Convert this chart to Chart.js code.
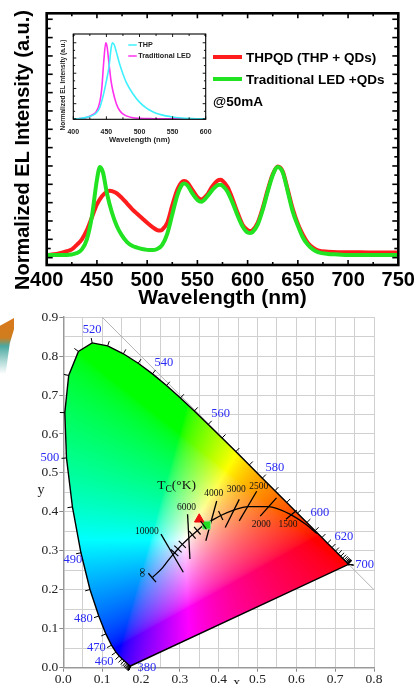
<!DOCTYPE html>
<html>
<head>
<meta charset="utf-8">
<title>EL spectra and CIE 1931 diagram</title>
<script src="https://cdn.jsdelivr.net/npm/chart.js@4.4.1/dist/chart.umd.min.js"></script>
<style>
  html, body { margin: 0; padding: 0; background: #fff; }
  body { position: relative; width: 416px; height: 684px; overflow: hidden; }
  canvas { position: absolute; }
  #elChart { left: 0; top: 0; }
  #insetChart { left: 55px; top: 30px; }
  #cieChart { left: 0; top: 308px; }
  /* scrap of a neighbouring figure poking in from the left edge */
  #edgeScrap {
    position: absolute; left: 0; top: 318px; width: 14px; height: 56px; z-index: 5;
    background: linear-gradient(to bottom, #d9781c 0%, #cf7d1e 35%, #4aa8a0 50%, #a8d6d2 75%, rgba(255,255,255,0) 100%);
    clip-path: polygon(0 14%, 100% 0, 100% 20%, 70% 45%, 40% 100%, 0 100%);
  }
</style>
</head>
<body>
<div id="edgeScrap"></div>
<canvas id="elChart" width="416" height="308"></canvas>
<canvas id="insetChart" width="165" height="115"></canvas>
<canvas id="cieChart" width="416" height="376"></canvas>
<script>
// --- Main panel: normalized EL spectra ---
const thpqdWl  = [400,410,420,425,430,435,440,445,450,455,460,463,465,470,475,480,485,490,495,500,505,510,513,515,520,525,530,535,537,540,545,550,554,560,565,570,573,575,580,585,590,595,600,603,605,610,615,620,625,630,635,640,645,650,655,660,665,670,680,690,700,720,750];
const thpqdVal = [0.03,0.04,0.07,0.09,0.14,0.2,0.3,0.44,0.58,0.67,0.72,0.73,0.725,0.70,0.65,0.59,0.53,0.48,0.43,0.38,0.335,0.30,0.295,0.305,0.38,0.57,0.74,0.83,0.835,0.82,0.74,0.66,0.635,0.69,0.78,0.84,0.85,0.84,0.77,0.64,0.49,0.36,0.30,0.29,0.30,0.38,0.54,0.74,0.91,0.995,0.94,0.74,0.53,0.37,0.25,0.16,0.11,0.08,0.065,0.06,0.06,0.057,0.055];
const tradWl  = [400,410,420,425,430,435,440,445,450,453,456,460,465,470,475,480,485,490,495,500,505,510,515,520,525,530,535,537,540,545,550,554,560,565,570,573,575,580,585,590,595,600,603,605,610,615,620,625,630,635,640,645,650,655,660,665,670,680,690,700,720,750];
const tradVal = [0.03,0.03,0.03,0.035,0.05,0.09,0.2,0.45,0.85,0.99,0.93,0.70,0.49,0.34,0.24,0.17,0.13,0.11,0.095,0.085,0.083,0.095,0.14,0.26,0.47,0.68,0.80,0.81,0.79,0.70,0.63,0.61,0.67,0.74,0.79,0.795,0.785,0.72,0.60,0.46,0.34,0.275,0.27,0.28,0.36,0.52,0.72,0.90,0.99,0.93,0.72,0.50,0.35,0.22,0.14,0.09,0.06,0.04,0.035,0.03,0.03,0.03];
const elTickLabels = [400,450,500,550,600,650,700,750];

// --- Inset: blue chips alone ---
const thpWl  = [400,410,420,430,435,440,445,450,454,457,459,462,465,470,475,480,490,500,510,520,530,540,550,560,580,600];
const thpVal = [0,0.005,0.02,0.05,0.08,0.15,0.3,0.5,0.69,0.92,1.0,0.97,0.88,0.72,0.59,0.48,0.33,0.22,0.145,0.095,0.06,0.04,0.025,0.015,0.005,0];
const ledWl  = [400,410,420,430,435,440,443,446,449,451,454,457,460,465,470,475,480,490,500,520,550,600];
const ledVal = [0,0.005,0.02,0.06,0.1,0.22,0.4,0.75,1.0,0.95,0.72,0.5,0.36,0.2,0.11,0.065,0.04,0.015,0.008,0.003,0,0];
const insetTickLabels = [400,450,500,550,600];

// --- CIE 1931 spectral locus, 380..700 nm every 5 nm ---
const locusX = [0.1741,0.1740,0.1738,0.1736,0.1733,0.1730,0.1726,0.1721,0.1714,0.1703,0.1689,0.1669,0.1644,0.1611,0.1566,0.1510,0.1440,0.1355,0.1241,0.1096,0.0913,0.0687,0.0454,0.0235,0.0082,0.0039,0.0139,0.0389,0.0743,0.1142,0.1547,0.1929,0.2296,0.2658,0.3016,0.3373,0.3731,0.4087,0.4441,0.4788,0.5125,0.5448,0.5752,0.6029,0.6270,0.6482,0.6658,0.6801,0.6915,0.7006,0.7079,0.7140,0.7190,0.7230,0.7260,0.7283,0.7300,0.7311,0.7320,0.7327,0.7334,0.7340,0.7344,0.7346,0.7347];
const locusY = [0.0050,0.0050,0.0049,0.0049,0.0048,0.0048,0.0048,0.0048,0.0051,0.0058,0.0069,0.0086,0.0109,0.0138,0.0177,0.0227,0.0297,0.0399,0.0578,0.0868,0.1327,0.2007,0.2950,0.4127,0.5384,0.6548,0.7502,0.8120,0.8338,0.8262,0.8059,0.7816,0.7543,0.7243,0.6923,0.6589,0.6245,0.5896,0.5547,0.5202,0.4866,0.4544,0.4242,0.3965,0.3725,0.3514,0.3340,0.3197,0.3083,0.2993,0.2920,0.2859,0.2809,0.2770,0.2740,0.2717,0.2700,0.2689,0.2680,0.2673,0.2666,0.2660,0.2656,0.2654,0.2653];
const locusStartNm = 380;
const locusLabelNm = [380,460,470,480,490,500,520,540,560,580,600,620,700];

// Planckian locus from infinity down to 1000 K
const planckX = [0.230,0.2565,0.2637,0.2807,0.2866,0.2952,0.3064,0.3221,0.3324,0.3451,0.3611,0.3805,0.4053,0.4369,0.4770,0.5267,0.5857,0.6251,0.6528];
const planckY = [0.232,0.2577,0.2674,0.2884,0.2950,0.3048,0.3166,0.3318,0.3410,0.3516,0.3658,0.3768,0.3907,0.4041,0.4137,0.4133,0.3931,0.3674,0.3444];

// labelled isotherms, upper end (x1,y1) and lower end (x2,y2)
const isoT  = [10000,6000,4000,3000,2500,2000,1500];
const isoX1 = [0.2515,0.320,0.395,0.453,0.498,0.549,0.601];
const isoY1 = [0.343,0.394,0.428,0.432,0.453,0.436,0.404];
const isoX2 = [0.309,0.326,0.367,0.417,0.453,0.507,0.5734];
const isoY2 = [0.245,0.279,0.326,0.360,0.377,0.389,0.381];

// short unlabelled isotherm marks
const minorIsoX = [0.2866,0.2952,0.3064,0.3324,0.3451,0.3611,0.4053];
const minorIsoY = [0.2950,0.3048,0.3166,0.3410,0.3516,0.3658,0.3907];

const infBarX = [0.219,0.2387];
const infBarY = [0.2425,0.2195];
const whiteEdgeX = [0.1,0.8];
const whiteEdgeY = [0.9,0.2];

const thpqdPoint = [0.350,0.381];
const tradPoint  = [0.369,0.366];

const SANS = '"Liberation Sans", Arial, sans-serif';
const SERIF = '"Liberation Serif", "Times New Roman", serif';

const pts = (xs, ys) => xs.map((v, i) => ({ x: v, y: ys[i] }));

function seg(ctx, x1, y1, x2, y2) {
    ctx.beginPath();
    ctx.moveTo(x1, y1);
    ctx.lineTo(x2, y2);
    ctx.stroke();
}

// ---------------- main EL panel ----------------
const elDecor = {
    id: 'elDecor',
    afterDraw(chart) {
        const { ctx, chartArea: a, scales: { x, y } } = chart;
        ctx.save();
        ctx.strokeStyle = '#000';
        ctx.lineWidth = 1.6;
        // inward ticks on all four sides
        for (let v = 400; v <= 750; v += 25) {
            const px = x.getPixelForValue(v);
            const len = v % 50 === 0 ? 5 : 3;
            seg(ctx, px, a.bottom, px, a.bottom - len);
            seg(ctx, px, a.top, px, a.top + len);
        }
        for (let i = 0; i <= 26; i++) {
            const py = y.getPixelForValue(i / 10);
            const len = i % 2 === 0 ? 6 : 4;
            seg(ctx, a.left, py, a.left + len, py);
            seg(ctx, a.right, py, a.right - len, py);
        }
        ctx.lineWidth = 2.6;
        ctx.strokeRect(a.left, a.top, a.right - a.left, a.bottom - a.top);

        ctx.fillStyle = '#000';
        ctx.textAlign = 'center';
        ctx.textBaseline = 'middle';
        ctx.font = 'bold 20px ' + SANS;
        elTickLabels.forEach(v => ctx.fillText(String(v), x.getPixelForValue(v), 280));
        ctx.font = 'bold 21px ' + SANS;
        ctx.fillText('Wavelength (nm)', (a.left + a.right) / 2, 298);

        ctx.save();
        ctx.translate(23, 150);
        ctx.rotate(-Math.PI / 2);
        ctx.font = 'bold 20px ' + SANS;
        ctx.fillText('Normalized EL Intensity (a.u.)', 0, 0);
        ctx.restore();

        // legend
        const ds = chart.data.datasets;
        ctx.textAlign = 'left';
        ctx.font = 'bold 13.5px ' + SANS;
        ctx.lineWidth = 4;
        [57, 79].forEach((ly, i) => {
            ctx.strokeStyle = ds[i].borderColor;
            seg(ctx, 213, ly, 242, ly);
            ctx.fillText(ds[i].label, 246, ly + 1);
        });
        ctx.fillText('@50mA', 213, 102);
        ctx.restore();
    }
};

new Chart(document.getElementById('elChart'), {
    type: 'line',
    data: {
        datasets: [
            { label: 'THPQD (THP + QDs)', data: pts(thpqdWl, thpqdVal), borderColor: '#ff1c1c', borderWidth: 4, order: 1 },
            { label: 'Traditional LED +QDs', data: pts(tradWl, tradVal), borderColor: '#22e322', borderWidth: 4, order: 0 }
        ]
    },
    options: {
        responsive: false,
        animation: false,
        layout: { padding: { left: 46.7, right: 17.7, top: 13.3, bottom: 43 } },
        elements: { point: { radius: 0 }, line: { cubicInterpolationMode: 'monotone' } },
        plugins: { legend: { display: false }, tooltip: { enabled: false } },
        scales: {
            x: { type: 'linear', min: 400, max: 750, display: false },
            y: { type: 'linear', min: -0.08, max: 2.665, display: false }
        }
    },
    plugins: [elDecor]
});

// ---------------- inset ----------------
const insetDecor = {
    id: 'insetDecor',
    afterDraw(chart) {
        const { ctx, chartArea: a, scales: { x, y } } = chart;
        ctx.save();
        ctx.strokeStyle = '#000';
        ctx.lineWidth = 0.9;
        for (let v = 400; v <= 600; v += 25) {
            const px = x.getPixelForValue(v);
            const len = v % 50 === 0 ? 3 : 2;
            seg(ctx, px, a.bottom, px, a.bottom - len);
            seg(ctx, px, a.top, px, a.top + len);
        }
        for (let i = 0; i <= 11; i++) {
            const py = y.getPixelForValue(i / 10);
            const len = i % 2 === 0 ? 3 : 1.8;
            seg(ctx, a.left, py, a.left + len, py);
            seg(ctx, a.right, py, a.right - len, py);
        }
        ctx.lineWidth = 1.1;
        ctx.strokeRect(a.left, a.top, a.right - a.left, a.bottom - a.top);

        ctx.fillStyle = '#222';
        ctx.textAlign = 'center';
        ctx.textBaseline = 'middle';
        ctx.font = 'bold 7px ' + SANS;
        insetTickLabels.forEach(v => ctx.fillText(String(v), x.getPixelForValue(v), 101.7));
        ctx.font = 'bold 7.6px ' + SANS;
        ctx.fillText('Wavelength (nm)', (a.left + a.right) / 2, 110);
        ctx.save();
        ctx.translate(8.3, 55);
        ctx.rotate(-Math.PI / 2);
        ctx.font = 'bold 6.5px ' + SANS;
        ctx.fillText('Normalized EL Intensity (a.u.)', 0, 0);
        ctx.restore();

        const ds = chart.data.datasets;
        ctx.textAlign = 'left';
        ctx.font = 'bold 7.2px ' + SANS;
        ctx.lineWidth = 1.5;
        [15, 26].forEach((ly, i) => {
            ctx.strokeStyle = ds[i].borderColor;
            seg(ctx, 73.3, ly, 81.7, ly);
            ctx.fillText(ds[i].label, 83.3, ly + 0.5);
        });
        ctx.restore();
    }
};

new Chart(document.getElementById('insetChart'), {
    type: 'line',
    data: {
        datasets: [
            { label: 'THP', data: pts(thpWl, thpVal), borderColor: '#3ff0ff', borderWidth: 1.6 },
            { label: 'Traditional LED', data: pts(ledWl, ledVal), borderColor: '#ff30ee', borderWidth: 1.6 }
        ]
    },
    options: {
        responsive: false,
        animation: false,
        layout: { padding: { left: 18.3, right: 14.3, top: 4, bottom: 25.7 } },
        elements: { point: { radius: 0 }, line: { cubicInterpolationMode: 'monotone' } },
        plugins: { legend: { display: false }, tooltip: { enabled: false } },
        scales: {
            x: { type: 'linear', min: 400, max: 600, display: false },
            y: { type: 'linear', min: -0.005, max: 1.115, display: false }
        }
    },
    plugins: [insetDecor]
});

// ---------------- CIE 1931 chromaticity diagram ----------------
function chromaToRgb(cx, cy) {
    if (cy <= 0.0005) return [0, 0, 0];
    const X = cx / cy, Y = 1, Z = (1 - cx - cy) / cy;
    let r = 3.2406 * X - 1.5372 * Y - 0.4986 * Z;
    let g = -0.9689 * X + 1.8758 * Y + 0.0415 * Z;
    let b = 0.0557 * X - 0.2040 * Y + 1.0570 * Z;
    r = Math.max(r, 0); g = Math.max(g, 0); b = Math.max(b, 0);
    const m = Math.max(r, g, b) || 1;
    // a softer curve than sRGB keeps the white patch small, as in the original
    const enc = c => Math.round(255 * Math.pow(c / m, 1 / 1.7));
    return [enc(r), enc(g), enc(b)];
}

const isTenth = v => Math.abs(Math.round(v * 100)) % 10 === 0;

// pixel offsets of the wavelength labels from their locus point
const wlLabelOffset = { 380: [16, 2], 460: [-15, 6], 470: [-15, 3], 480: [-15.5, 2.6], 490: [-8, 7], 500: [-16.5, 0],
    520: [0, -13], 540: [11.5, -11], 560: [12.5, -11], 580: [12.5, -10], 600: [13, -10], 620: [12, -11], 700: [16, 0] };
// pixel offsets of the temperature labels (from upper end, or lower end for 2000/1500)
const isoLabelOffset = [[-14, -3], [-1, -7], [-3, -7], [-3, -10], [2, -5], [1, 8], [2, 5]];

const cieDecor = {
    id: 'cieDecor',
    beforeDatasetsDraw(chart) {
        const { ctx, chartArea: a, scales: { x, y } } = chart;
        const w = Math.ceil(a.right - a.left), h = Math.ceil(a.bottom - a.top);
        const off = document.createElement('canvas');
        off.width = w; off.height = h;
        const octx = off.getContext('2d');
        const img = octx.createImageData(w, h);
        for (let j = 0; j < h; j++) {
            const cy = y.getValueForPixel(a.top + j + 0.5);
            for (let i = 0; i < w; i++) {
                const cx = x.getValueForPixel(a.left + i + 0.5);
                const c = chromaToRgb(cx, cy);
                const k = (j * w + i) * 4;
                img.data[k] = c[0]; img.data[k + 1] = c[1]; img.data[k + 2] = c[2]; img.data[k + 3] = 255;
            }
        }
        octx.putImageData(img, 0, 0);
        ctx.save();
        ctx.beginPath();
        locusX.forEach((vx, i) => {
            const px = x.getPixelForValue(vx), py = y.getPixelForValue(locusY[i]);
            if (i === 0) ctx.moveTo(px, py); else ctx.lineTo(px, py);
        });
        ctx.closePath();
        ctx.clip();
        ctx.drawImage(off, a.left, a.top);
        ctx.restore();
    },
    afterDatasetsDraw(chart) {
        const { ctx, scales: { x, y } } = chart;
        const P = (vx, vy) => [x.getPixelForValue(vx), y.getPixelForValue(vy)];
        ctx.save();
        ctx.strokeStyle = '#000';
        ctx.lineWidth = 1;

        // outward ticks every 5 nm on the spectral locus
        const c = P(0.33, 0.33);
        const lp = locusX.map((vx, i) => P(vx, locusY[i]));
        lp.forEach((p, i) => {
            const pa = lp[Math.max(i - 1, 0)], pb = lp[Math.min(i + 1, lp.length - 1)];
            let nx = -(pb[1] - pa[1]), ny = pb[0] - pa[0];
            let len = Math.hypot(nx, ny);
            if (len < 0.5) { nx = p[0] - c[0]; ny = p[1] - c[1]; len = Math.hypot(nx, ny); }
            nx /= len; ny /= len;
            if (nx * (p[0] - c[0]) + ny * (p[1] - c[1]) < 0) { nx = -nx; ny = -ny; }
            seg(ctx, p[0], p[1], p[0] + nx * 5, p[1] + ny * 5);
        });

        // short isotherm marks on the Planckian locus
        const pp = planckX.map((vx, i) => P(vx, planckY[i]));
        ctx.lineWidth = 1.2;
        minorIsoX.forEach((vx, k) => {
            const p = P(vx, minorIsoY[k]);
            const i = planckX.indexOf(vx);
            const pa = pp[Math.max(i - 1, 0)], pb = pp[Math.min(i + 1, pp.length - 1)];
            let nx = -(pb[1] - pa[1]), ny = pb[0] - pa[0];
            const len = Math.hypot(nx, ny);
            nx /= len; ny /= len;
            seg(ctx, p[0] - nx * 5, p[1] - ny * 5, p[0] + nx * 5, p[1] + ny * 5);
        });

        // wavelength labels
        ctx.fillStyle = '#2a2af5';
        ctx.font = '12.5px ' + SERIF;
        ctx.textAlign = 'center';
        ctx.textBaseline = 'middle';
        locusLabelNm.forEach(nm => {
            const i = (nm - locusStartNm) / 5;
            const p = P(locusX[i], locusY[i]);
            const o = wlLabelOffset[nm];
            ctx.fillText(String(nm), p[0] + o[0], p[1] + o[1]);
        });

        // colour temperature labels
        ctx.fillStyle = '#111';
        ctx.font = '9.5px ' + SERIF;
        isoT.forEach((t, i) => {
            const p = i < 5 ? P(isoX1[i], isoY1[i]) : P(isoX2[i], isoY2[i]);
            const o = isoLabelOffset[i];
            ctx.fillText(String(t), p[0] + o[0], p[1] + o[1]);
        });

        // T_C(°K)
        const tp = P(0.242, 0.468);
        ctx.textAlign = 'left';
        ctx.font = '13.5px ' + SERIF;
        ctx.fillText('T', tp[0], tp[1]);
        let tx = tp[0] + ctx.measureText('T').width;
        ctx.font = '9.5px ' + SERIF;
        ctx.fillText('C', tx, tp[1] + 4);
        tx += ctx.measureText('C').width;
        ctx.font = '13.5px ' + SERIF;
        ctx.fillText('(\u00B0K)', tx, tp[1]);

        // infinity mark
        const ip = P(0.205, 0.245);
        ctx.save();
        ctx.translate(ip[0], ip[1]);
        ctx.rotate(-Math.PI / 2);
        ctx.textAlign = 'center';
        ctx.font = '13px ' + SERIF;
        ctx.fillText('\u221E', 0, 0);
        ctx.restore();

        // axis titles
        ctx.fillStyle = '#222';
        ctx.font = '14px ' + SERIF;
        ctx.textAlign = 'center';
        ctx.fillText('y', 41, 182);
        ctx.textBaseline = 'alphabetic';
        ctx.fillText('x', 236.7, 379);
        ctx.restore();
    }
};

const lineDs = (data, color, width) => ({ data: data, showLine: true, borderColor: color, borderWidth: width, pointRadius: 0, order: 2 });

new Chart(document.getElementById('cieChart'), {
    type: 'scatter',
    data: {
        datasets: [
            { data: [{ x: thpqdPoint[0], y: thpqdPoint[1] }], pointStyle: 'triangle', pointRadius: 5.5,
              backgroundColor: '#ee1111', borderColor: '#ee1111', order: 0 },
            { data: [{ x: tradPoint[0], y: tradPoint[1] }], pointStyle: 'rect', pointRadius: 5.5,
              backgroundColor: '#22dd22', borderColor: '#7fe67f', borderWidth: 1, order: 0 },
            lineDs(pts(locusX.concat(locusX[0]), locusY.concat(locusY[0])), '#000', 1.4),
            lineDs(pts(whiteEdgeX, whiteEdgeY), '#b4b4b4', 1),
            Object.assign(lineDs(pts(planckX, planckY), '#000', 1.3), { cubicInterpolationMode: 'monotone' }),
            lineDs(pts(infBarX, infBarY), '#000', 1.3),
            ...isoT.map((t, i) => lineDs([{ x: isoX1[i], y: isoY1[i] }, { x: isoX2[i], y: isoY2[i] }], '#000', 1.3))
        ]
    },
    options: {
        responsive: false,
        animation: false,
        layout: { padding: { left: 0, right: 42, top: 7, bottom: 0 } },
        plugins: { legend: { display: false }, tooltip: { enabled: false } },
        scales: {
            x: {
                type: 'linear', min: 0, max: 0.8,
                afterFit: s => { s.height = 16.3; },
                border: { color: '#999', width: 1.5 },
                grid: { color: '#d0d0d0', lineWidth: 1, tickLength: 4,
                        tickColor: c => isTenth(c.tick.value) ? '#888' : 'rgba(0,0,0,0)' },
                ticks: { stepSize: 0.05, autoSkip: false, maxRotation: 0, padding: 0, color: '#222',
                         font: { family: SERIF, size: 13.5 },
                         callback: v => isTenth(v) ? v.toFixed(1) : '' }
            },
            y: {
                type: 'linear', min: 0, max: 0.9,
                afterFit: s => { s.width = 63.3; },
                border: { color: '#999', width: 1.5 },
                grid: { color: '#d0d0d0', lineWidth: 1, tickLength: 4,
                        tickColor: c => isTenth(c.tick.value) ? '#888' : 'rgba(0,0,0,0)' },
                ticks: { stepSize: 0.05, autoSkip: false, padding: 1, color: '#222',
                         font: { family: SERIF, size: 13.5 },
                         callback: v => isTenth(v) ? v.toFixed(1) : '' }
            }
        }
    },
    plugins: [cieDecor]
});
</script>
</body>
</html>
